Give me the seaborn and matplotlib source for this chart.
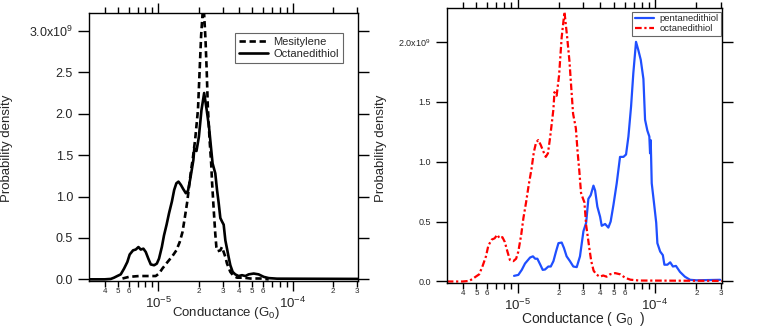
import numpy as np
import pandas as pd
import matplotlib.pyplot as plt
import matplotlib.ticker as mticker
import seaborn as sns

# conductance (G0) and probability density (x10^9)
octane_g = [3.04e-6, 3.98e-6, 4.42e-6, 4.67e-6, 4.94e-6, 5.24e-6, 5.55e-6, 5.87e-6, 6.11e-6,
            6.47e-6, 6.78e-6, 7.10e-6, 7.38e-6, 7.73e-6, 8.05e-6, 8.41e-6, 8.77e-6, 9.29e-6,
            9.73e-6, 1.01e-5, 1.06e-5, 1.10e-5, 1.15e-5, 1.20e-5, 1.26e-5, 1.31e-5, 1.36e-5,
            1.41e-5, 1.47e-5, 1.53e-5, 1.60e-5, 1.66e-5, 1.72e-5, 1.77e-5, 1.82e-5, 1.85e-5,
            1.92e-5, 2.00e-5, 2.09e-5, 2.19e-5, 2.29e-5, 2.38e-5, 2.46e-5, 2.53e-5, 2.65e-5,
            2.73e-5, 2.81e-5, 2.89e-5, 2.97e-5, 3.06e-5, 3.15e-5, 3.24e-5, 3.33e-5, 3.43e-5,
            3.57e-5, 3.73e-5, 3.95e-5, 4.19e-5, 4.44e-5, 4.70e-5, 5.12e-5, 5.57e-5, 6.08e-5,
            6.62e-5, 7.64e-5, 3.10e-4]
octane_density = [0.0, 0.0, 0.005, 0.02, 0.04, 0.06, 0.13, 0.21, 0.30,
                  0.35, 0.36, 0.39, 0.36, 0.37, 0.33, 0.25, 0.18, 0.17,
                  0.19, 0.25, 0.39, 0.53, 0.66, 0.80, 0.94, 1.08, 1.16,
                  1.18, 1.14, 1.09, 1.04, 1.07, 1.20, 1.32, 1.44, 1.58,
                  1.55, 1.72, 2.04, 2.25, 2.04, 1.84, 1.60, 1.40, 1.28,
                  1.08, 0.92, 0.74, 0.70, 0.66, 0.47, 0.37, 0.27, 0.17,
                  0.09, 0.06, 0.04, 0.05, 0.04, 0.06, 0.07, 0.06, 0.03,
                  0.015, 0.008, 0.005]

mesitylene_g = [5.40e-6, 6.04e-6, 7.18e-6, 9.55e-6, 1.01e-5, 1.07e-5, 1.17e-5, 1.27e-5, 1.36e-5,
                1.44e-5, 1.51e-5, 1.57e-5, 1.64e-5, 1.69e-5, 1.75e-5, 1.80e-5, 1.88e-5, 1.97e-5,
                2.03e-5, 2.08e-5, 2.14e-5, 2.18e-5, 2.24e-5, 2.29e-5, 2.33e-5, 2.40e-5, 2.47e-5,
                2.51e-5, 2.58e-5, 2.65e-5, 2.70e-5, 2.76e-5, 2.89e-5, 2.97e-5, 3.06e-5, 3.15e-5,
                3.24e-5, 3.43e-5, 3.63e-5, 3.85e-5, 4.31e-5, 4.83e-5, 5.74e-5, 6.62e-5]
mesitylene_density = [0.01, 0.03, 0.04, 0.04, 0.07, 0.13, 0.21, 0.28, 0.35,
                      0.45, 0.57, 0.74, 0.94, 1.12, 1.32, 1.45, 1.70, 2.05,
                      2.55, 2.95, 3.25, 3.25, 2.90, 2.50, 2.10, 1.70, 1.40,
                      1.16, 0.84, 0.55, 0.39, 0.34, 0.35, 0.39, 0.33, 0.27,
                      0.19, 0.09, 0.04, 0.02, 0.02, 0.01, 0.01, 0.0]

pentane_g = [9.40e-6, 1.01e-5, 1.07e-5, 1.13e-5, 1.23e-5, 1.29e-5, 1.34e-5, 1.39e-5, 1.46e-5,
             1.52e-5, 1.58e-5, 1.67e-5, 1.74e-5, 1.82e-5, 1.90e-5, 1.98e-5, 2.09e-5, 2.17e-5,
             2.27e-5, 2.40e-5, 2.54e-5, 2.69e-5, 2.84e-5, 3.01e-5, 3.15e-5, 3.27e-5, 3.40e-5,
             3.56e-5, 3.66e-5, 3.80e-5, 3.98e-5, 4.09e-5, 4.33e-5, 4.57e-5, 4.75e-5, 4.98e-5,
             5.26e-5, 5.56e-5, 5.89e-5, 6.15e-5, 6.40e-5, 6.69e-5, 6.95e-5, 7.27e-5, 7.56e-5,
             7.87e-5, 8.23e-5, 8.46e-5, 8.79e-5, 9.09e-5, 9.20e-5, 9.30e-5, 9.46e-5, 9.84e-5,
             1.02e-4, 1.04e-4, 1.09e-4, 1.14e-4, 1.17e-4, 1.23e-4, 1.29e-4, 1.35e-4, 1.42e-4,
             1.52e-4, 1.65e-4, 1.80e-4, 2.01e-4, 2.98e-4]
pentane_density = [0.047, 0.055, 0.097, 0.15, 0.20, 0.21, 0.19, 0.19, 0.14,
                   0.097, 0.10, 0.125, 0.125, 0.17, 0.25, 0.32, 0.325, 0.28,
                   0.21, 0.17, 0.125, 0.12, 0.21, 0.42, 0.49, 0.69, 0.72,
                   0.80, 0.76, 0.625, 0.54, 0.465, 0.48, 0.45, 0.50, 0.64,
                   0.82, 1.04, 1.04, 1.06, 1.21, 1.46, 1.74, 2.00, 1.93,
                   1.85, 1.69, 1.35, 1.26, 1.21, 1.07, 1.18, 0.82, 0.65,
                   0.49, 0.32, 0.25, 0.22, 0.14, 0.14, 0.16, 0.125, 0.13,
                   0.08, 0.04, 0.014, 0.01, 0.014]

left_yticks = [0.0, 0.5, 1.0, 1.5, 2.0, 2.5, 3.0]
left_ylabels = ['0.0', '0.5', '1.0', '1.5', '2.0', '2.5', '3.0x10$^{9}$']
right_yticks = [0.0, 0.5, 1.0, 1.5, 2.0]
right_ylabels = ['0.0', '0.5', '1.0', '1.5', '2.0x10$^{9}$']

sns.set_style('ticks')
plt.rcParams['font.family'] = ['Liberation Sans', 'DejaVu Sans']
plt.rcParams['mathtext.default'] = 'regular'


def minor_label(v, pos):
    d = int(round(v / 10 ** np.floor(np.log10(v) + 1e-9)))
    return str(d) if 2 <= d <= 6 else ''


def major_label(v, pos):
    return '10$^{%d}$' % int(round(np.log10(v)))


def style_axis(ax, yticks, ylabels, ylim, ysize):
    ax.set_xscale('log')
    ax.set_xlim(3.04e-6, 3.06e-4)
    ax.set_ylim(ylim)
    ax.xaxis.set_major_locator(mticker.LogLocator(base=10, numticks=10))
    ax.xaxis.set_minor_locator(mticker.LogLocator(base=10, subs=np.arange(2, 10), numticks=30))
    ax.xaxis.set_major_formatter(mticker.FuncFormatter(major_label))
    ax.xaxis.set_minor_formatter(mticker.FuncFormatter(minor_label))
    ax.tick_params(axis='x', which='major', direction='out', length=7, width=1,
                   top=True, labelsize=9.5, pad=4, color='black')
    ax.tick_params(axis='x', which='minor', direction='out', length=4, width=1,
                   top=True, labelsize=5.8, pad=1, color='black')
    ax.set_yticks(yticks)
    ax.set_yticklabels(ylabels)
    ax.tick_params(axis='y', direction='out', length=8, width=1, right=True,
                   labelsize=ysize, color='black')
    for s in ax.spines.values():
        s.set_color('black')
        s.set_linewidth(1)
    ax.grid(False)


fig = plt.figure(figsize=(7.63, 3.27), dpi=100)
ax1 = fig.add_axes([0.1166, 0.1407, 0.3526, 0.8205])
ax2 = fig.add_axes([0.5855, 0.1355, 0.3604, 0.8391])

# left: mesitylene vs octanedithiol
sns.lineplot(x=mesitylene_g, y=mesitylene_density, ax=ax1, color='black', lw=1.9,
             linestyle=(0, (2.4, 1.4)), estimator=None, sort=False, label='Mesitylene')
sns.lineplot(x=octane_g, y=octane_density, ax=ax1, color='black', lw=1.9,
             estimator=None, sort=False, label='Octanedithiol')
style_axis(ax1, left_yticks, left_ylabels, (-0.02, 3.22), 9)
ax1.set_xlabel('Conductance (G$_0$)', fontsize=9.5)
ax1.set_ylabel('Probability density', fontsize=9.5)
ax1.xaxis.set_label_coords(0.509, -0.09)
ax1.yaxis.set_label_coords(-0.283, 0.496)
ax1.legend(loc='upper right', bbox_to_anchor=(0.944, 0.924), borderaxespad=0,
           fontsize=8, frameon=True, fancybox=False, framealpha=1, edgecolor='#666666',
           handlelength=2.6, handletextpad=0.5, borderpad=0.35, labelspacing=0.2)
ax1.get_legend().get_frame().set_linewidth(0.8)

# right: pentanedithiol vs octanedithiol
sns.lineplot(x=pentane_g, y=pentane_density, ax=ax2, color='#1f4fff', lw=1.6,
             estimator=None, sort=False, label='pentanedithiol')
sns.lineplot(x=octane_g, y=octane_density, ax=ax2, color='#ff0000', lw=1.6,
             linestyle=(0, (3, 1.2, 1, 1.2)), estimator=None, sort=False, label='octanedithiol')
style_axis(ax2, right_yticks, right_ylabels, (-0.01, 2.28), 6.5)
ax2.set_xlabel('Conductance ( G$_0$  )', fontsize=10)
ax2.set_ylabel('Probability density', fontsize=9.5)
ax2.xaxis.set_label_coords(0.497, -0.10)
ax2.yaxis.set_label_coords(-0.217, 0.49)
ax2.legend(loc='upper right', bbox_to_anchor=(0.996, 0.988), borderaxespad=0,
           fontsize=6.8, frameon=True, fancybox=False, framealpha=1, edgecolor='#666666',
           handlelength=2.1, handletextpad=0.5, borderpad=0.25, labelspacing=0.15)
ax2.get_legend().get_frame().set_linewidth(0.8)

fig.savefig('out.png', dpi=100)
